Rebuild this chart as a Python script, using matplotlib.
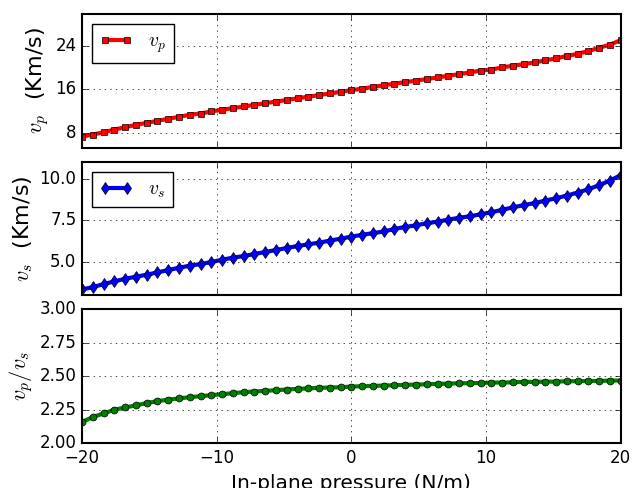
import numpy as np
import matplotlib
matplotlib.use("Agg")
import matplotlib.pyplot as plt

## Values (51 points, -20 .. 20 N/m)
pressure = np.linspace(-20, 20, 51)

vp = [7.26, 7.63, 8.06, 8.55, 8.98, 9.42, 9.79, 10.16, 10.53, 10.90,
      11.27, 11.51, 11.88, 12.20, 12.50, 12.80, 13.10, 13.40, 13.70, 14.00,
      14.30, 14.60, 14.90, 15.20, 15.50, 15.82, 16.07, 16.40, 16.70, 17.00,
      17.30, 17.55, 17.85, 18.15, 18.46, 18.76, 19.07, 19.40, 19.60, 20.00,
      20.30, 20.60, 20.90, 21.30, 21.65, 22.10, 22.50, 23.00, 23.60, 24.20,
      25.00]

vs = [3.36, 3.50, 3.68, 3.84, 4.00, 4.12, 4.24, 4.38, 4.52, 4.66,
      4.78, 4.88, 5.00, 5.14, 5.26, 5.36, 5.48, 5.60, 5.72, 5.84,
      5.96, 6.06, 6.16, 6.28, 6.40, 6.52, 6.63, 6.73, 6.83, 6.98,
      7.10, 7.20, 7.32, 7.42, 7.54, 7.65, 7.74, 7.86, 7.98, 8.13,
      8.27, 8.41, 8.53, 8.68, 8.82, 8.98, 9.16, 9.36, 9.60, 9.88,
      10.20]

ratio = [2.158, 2.195, 2.222, 2.250, 2.267, 2.282, 2.300, 2.314, 2.325, 2.334,
         2.344, 2.351, 2.359, 2.366, 2.374, 2.381, 2.386, 2.391, 2.396, 2.401,
         2.406, 2.409, 2.414, 2.416, 2.418, 2.423, 2.426, 2.428, 2.431, 2.433,
         2.436, 2.438, 2.440, 2.443, 2.445, 2.448, 2.448, 2.450, 2.453, 2.453,
         2.455, 2.458, 2.458, 2.460, 2.460, 2.463, 2.463, 2.465, 2.465, 2.468,
         2.468]

xticks = [-20, -10, 0, 10, 20]
vp_ticks = [8, 16, 24]
vs_ticks = [5.0, 7.5, 10.0]
ratio_ticks = [2.0, 2.25, 2.5, 2.75, 3.0]

plt.style.use('classic')
plt.rcParams['figure.facecolor'] = 'white'
plt.rcParams['savefig.facecolor'] = 'white'
plt.rcParams['axes.linewidth'] = 1.5
plt.rcParams['mathtext.fontset'] = 'cm'

fig, axs = plt.subplots(3, 1, sharex=True, figsize=(6.36, 4.88), dpi=100)
fig.subplots_adjust(left=0.129, right=0.976, top=0.971, bottom=0.092, hspace=0.105)

## vp
ax = axs[0]
ax.plot(pressure, vp, 'r-s', lw=3, ms=5, mew=0.5, mec='k', label=r'$v_p$')
ax.set_ylim(5.2, 29.8)
ax.set_yticks(vp_ticks)
ax.set_ylabel(r'$v_p$  (Km/s)', fontsize=16, labelpad=3)
ax.legend(loc='upper left', fontsize=14, handlelength=1.7, fancybox=False)

## vs
ax = axs[1]
ax.plot(pressure, vs, 'b-d', lw=3, ms=6, mew=0.5, mec='k', label=r'$v_s$')
ax.set_ylim(3, 11)
ax.set_yticks(vs_ticks)
ax.set_yticklabels(["%.1f" % t for t in vs_ticks])
ax.set_ylabel(r'$v_s$  (Km/s)', fontsize=16, labelpad=3)
ax.legend(loc='upper left', fontsize=14, handlelength=1.7, fancybox=False)

## ratio
ax = axs[2]
ax.plot(pressure, ratio, 'g-o', lw=3, ms=5, mew=0.5, mec='k')
ax.set_ylim(2.0, 3.0)
ax.set_yticks(ratio_ticks)
ax.set_yticklabels(["%.2f" % t for t in ratio_ticks])
ax.set_ylabel(r'$v_p/v_s$', fontsize=16, labelpad=3)
ax.set_xlabel("In-plane pressure (N/m)", fontsize=14.5)

for ax in axs:
    ax.set_xlim(-20, 20)
    ax.set_xticks(xticks)
    ax.grid(True, linestyle=':', color='k', linewidth=0.5)
    ax.tick_params(labelsize=12)

fig.savefig("out.png", dpi=100)
